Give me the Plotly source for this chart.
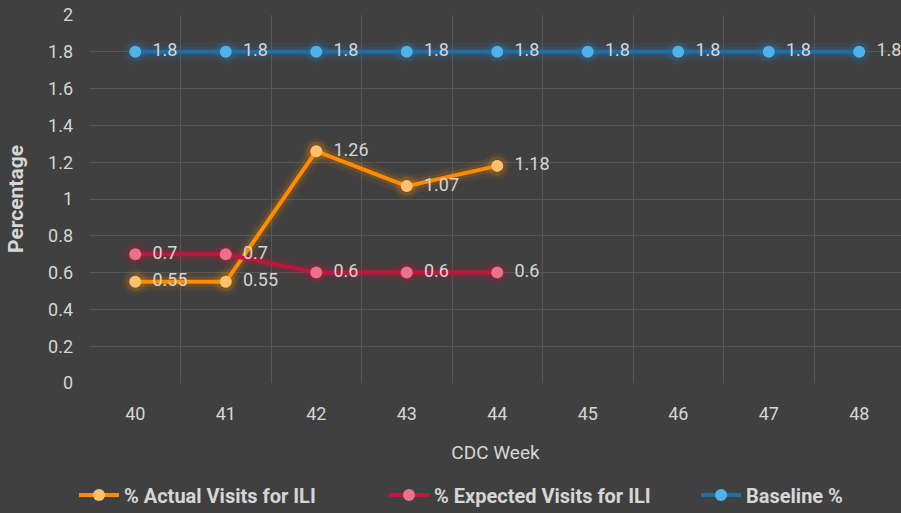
import plotly.graph_objects as go

weeks = [40, 41, 42, 43, 44, 45, 46, 47, 48]
actual_weeks = [40, 41, 42, 43, 44]
actual = [0.55, 0.55, 1.26, 1.07, 1.18]
expected_weeks = [40, 41, 42, 43, 44]
expected = [0.7, 0.7, 0.6, 0.6, 0.6]
baseline = [1.8, 1.8, 1.8, 1.8, 1.8, 1.8, 1.8, 1.8, 1.8]
y_ticks = [0, 0.2, 0.4, 0.6, 0.8, 1, 1.2, 1.4, 1.6, 1.8, 2]
y_tick_text = ["0", "0.2", "0.4", "0.6", "0.8", "1", "1.2", "1.4", "1.6", "1.8", "2"]
series_names = ["% Actual Visits for ILI", "% Expected Visits for ILI", "Baseline %"]

FONT = "Roboto, Liberation Sans, sans-serif"
TXT = "#d6d6d6"
BG = "#404040"

series = [
    (series_names[0], actual_weeks, actual, "#ff8c00", "#ffc26a", "255,140,0", "legend"),
    (series_names[1], expected_weeks, expected, "#c0163e", "#ec7088", "200,20,60", "legend2"),
    (series_names[2], weeks, baseline, "#1f6ea8", "#4fb3ea", "40,130,200", "legend3"),
]

fig = go.Figure()

# soft glow layers
for name, xs, ys, lc, mc, rgb, lg in series:
    for w, a in [(18, 0.07), (10, 0.15)]:
        fig.add_trace(go.Scatter(
            x=xs, y=ys, mode="lines+markers", showlegend=False, hoverinfo="skip",
            line=dict(color=f"rgba({rgb},{a})", width=w),
            marker=dict(color=f"rgba({rgb},{a})", size=12 + w * 0.8),
        ))

# main series
for name, xs, ys, lc, mc, rgb, lg in series:
    fig.add_trace(go.Scatter(
        x=xs, y=ys, name=name, mode="lines+markers", legend=lg,
        line=dict(color=lc, width=4),
        marker=dict(color=mc, size=12),
    ))

# data labels (invisible larger markers push text to the right)
for name, xs, ys, lc, mc, rgb, lg in series:
    fig.add_trace(go.Scatter(
        x=xs, y=ys, mode="markers+text", showlegend=False, hoverinfo="skip",
        text=[f"{v:g}" for v in ys], textposition="middle right",
        textfont=dict(family=FONT, size=18, color=TXT),
        marker=dict(color="rgba(0,0,0,0)", size=26),
        cliponaxis=False,
    ))

leg_common = dict(
    orientation="h", xref="container", yref="container",
    y=0.035, xanchor="left", yanchor="middle",
    font=dict(family=FONT, size=20, color=TXT, weight="bold"),
    bgcolor="rgba(0,0,0,0)", itemwidth=40,
)

fig.update_layout(
    width=901, height=513,
    paper_bgcolor=BG, plot_bgcolor=BG,
    margin=dict(l=90, r=0, t=15, b=130),
    font=dict(family=FONT, color=TXT, size=17),
    xaxis=dict(
        range=[39.5, 39.5 + 811 / 90.5],
        tickvals=weeks, ticktext=[str(w) for w in weeks],
        showgrid=False, zeroline=False, showline=False, ticks="",
        ticklabelstandoff=18,
        tickfont=dict(family=FONT, size=18, color=TXT),
        minor=dict(tick0=39.5, dtick=1, showgrid=True, gridcolor="#575757", gridwidth=1, ticks=""),
        title=dict(text="CDC Week", font=dict(family=FONT, size=19, color=TXT), standoff=22),
    ),
    yaxis=dict(
        range=[0, 2], tickvals=y_ticks, ticktext=y_tick_text,
        showgrid=True, gridcolor="#575757", gridwidth=1,
        zeroline=False, showline=False, ticks="",
        ticklabelstandoff=16,
        tickfont=dict(family=FONT, size=18, color=TXT),
        title=dict(text="<b>Percentage</b>", font=dict(family=FONT, size=21, color=TXT), standoff=18),
    ),
    legend=dict(x=74 / 901, **leg_common),
    legend2=dict(x=384 / 901, **leg_common),
    legend3=dict(x=696 / 901, **leg_common),
)

fig.write_html(
    "out.html",
    config={"displayModeBar": False},
    post_script="document.body.style.margin='0';document.body.style.overflow='hidden';",
)
